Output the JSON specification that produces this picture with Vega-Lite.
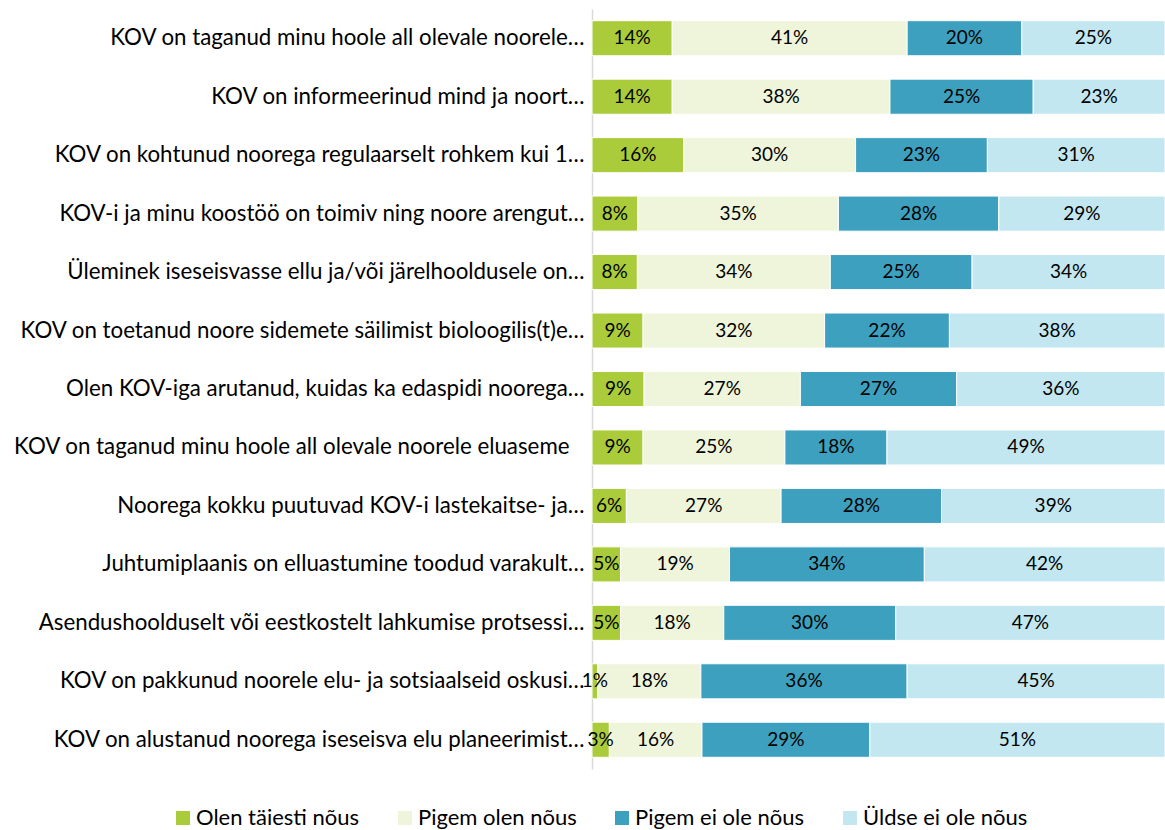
{
  "$schema": "https://vega.github.io/schema/vega-lite/v6.json",
  "width": 573,
  "height": 760,
  "autosize": "none",
  "padding": {"left": 592, "top": 9, "right": 0, "bottom": 61},
  "background": "white",
  "config": {"view": {"stroke": null}, "font": "Lato"},
  "data": {"values": [
    {"q": "KOV on taganud minu hoole all olevale noorele…", "cat": "Olen täiesti nõus", "o": 1, "value": 14},
    {"q": "KOV on taganud minu hoole all olevale noorele…", "cat": "Pigem olen nõus", "o": 2, "value": 41},
    {"q": "KOV on taganud minu hoole all olevale noorele…", "cat": "Pigem ei ole nõus", "o": 3, "value": 20},
    {"q": "KOV on taganud minu hoole all olevale noorele…", "cat": "Üldse ei ole nõus", "o": 4, "value": 25},
    {"q": "KOV on informeerinud mind ja noort…", "cat": "Olen täiesti nõus", "o": 1, "value": 14},
    {"q": "KOV on informeerinud mind ja noort…", "cat": "Pigem olen nõus", "o": 2, "value": 38},
    {"q": "KOV on informeerinud mind ja noort…", "cat": "Pigem ei ole nõus", "o": 3, "value": 25},
    {"q": "KOV on informeerinud mind ja noort…", "cat": "Üldse ei ole nõus", "o": 4, "value": 23},
    {"q": "KOV on kohtunud noorega regulaarselt rohkem kui 1…", "cat": "Olen täiesti nõus", "o": 1, "value": 16},
    {"q": "KOV on kohtunud noorega regulaarselt rohkem kui 1…", "cat": "Pigem olen nõus", "o": 2, "value": 30},
    {"q": "KOV on kohtunud noorega regulaarselt rohkem kui 1…", "cat": "Pigem ei ole nõus", "o": 3, "value": 23},
    {"q": "KOV on kohtunud noorega regulaarselt rohkem kui 1…", "cat": "Üldse ei ole nõus", "o": 4, "value": 31},
    {"q": "KOV-i ja minu koostöö on toimiv ning noore arengut…", "cat": "Olen täiesti nõus", "o": 1, "value": 8},
    {"q": "KOV-i ja minu koostöö on toimiv ning noore arengut…", "cat": "Pigem olen nõus", "o": 2, "value": 35},
    {"q": "KOV-i ja minu koostöö on toimiv ning noore arengut…", "cat": "Pigem ei ole nõus", "o": 3, "value": 28},
    {"q": "KOV-i ja minu koostöö on toimiv ning noore arengut…", "cat": "Üldse ei ole nõus", "o": 4, "value": 29},
    {"q": "Üleminek iseseisvasse ellu ja/või järelhooldusele on…", "cat": "Olen täiesti nõus", "o": 1, "value": 8},
    {"q": "Üleminek iseseisvasse ellu ja/või järelhooldusele on…", "cat": "Pigem olen nõus", "o": 2, "value": 34},
    {"q": "Üleminek iseseisvasse ellu ja/või järelhooldusele on…", "cat": "Pigem ei ole nõus", "o": 3, "value": 25},
    {"q": "Üleminek iseseisvasse ellu ja/või järelhooldusele on…", "cat": "Üldse ei ole nõus", "o": 4, "value": 34},
    {"q": "KOV on toetanud noore sidemete säilimist bioloogilis(t)e…", "cat": "Olen täiesti nõus", "o": 1, "value": 9},
    {"q": "KOV on toetanud noore sidemete säilimist bioloogilis(t)e…", "cat": "Pigem olen nõus", "o": 2, "value": 32},
    {"q": "KOV on toetanud noore sidemete säilimist bioloogilis(t)e…", "cat": "Pigem ei ole nõus", "o": 3, "value": 22},
    {"q": "KOV on toetanud noore sidemete säilimist bioloogilis(t)e…", "cat": "Üldse ei ole nõus", "o": 4, "value": 38},
    {"q": "Olen KOV-iga arutanud, kuidas ka edaspidi noorega…", "cat": "Olen täiesti nõus", "o": 1, "value": 9},
    {"q": "Olen KOV-iga arutanud, kuidas ka edaspidi noorega…", "cat": "Pigem olen nõus", "o": 2, "value": 27},
    {"q": "Olen KOV-iga arutanud, kuidas ka edaspidi noorega…", "cat": "Pigem ei ole nõus", "o": 3, "value": 27},
    {"q": "Olen KOV-iga arutanud, kuidas ka edaspidi noorega…", "cat": "Üldse ei ole nõus", "o": 4, "value": 36},
    {"q": "KOV on taganud minu hoole all olevale noorele eluaseme", "cat": "Olen täiesti nõus", "o": 1, "value": 9},
    {"q": "KOV on taganud minu hoole all olevale noorele eluaseme", "cat": "Pigem olen nõus", "o": 2, "value": 25},
    {"q": "KOV on taganud minu hoole all olevale noorele eluaseme", "cat": "Pigem ei ole nõus", "o": 3, "value": 18},
    {"q": "KOV on taganud minu hoole all olevale noorele eluaseme", "cat": "Üldse ei ole nõus", "o": 4, "value": 49},
    {"q": "Noorega kokku puutuvad KOV-i lastekaitse- ja…", "cat": "Olen täiesti nõus", "o": 1, "value": 6},
    {"q": "Noorega kokku puutuvad KOV-i lastekaitse- ja…", "cat": "Pigem olen nõus", "o": 2, "value": 27},
    {"q": "Noorega kokku puutuvad KOV-i lastekaitse- ja…", "cat": "Pigem ei ole nõus", "o": 3, "value": 28},
    {"q": "Noorega kokku puutuvad KOV-i lastekaitse- ja…", "cat": "Üldse ei ole nõus", "o": 4, "value": 39},
    {"q": "Juhtumiplaanis on elluastumine toodud varakult…", "cat": "Olen täiesti nõus", "o": 1, "value": 5},
    {"q": "Juhtumiplaanis on elluastumine toodud varakult…", "cat": "Pigem olen nõus", "o": 2, "value": 19},
    {"q": "Juhtumiplaanis on elluastumine toodud varakult…", "cat": "Pigem ei ole nõus", "o": 3, "value": 34},
    {"q": "Juhtumiplaanis on elluastumine toodud varakult…", "cat": "Üldse ei ole nõus", "o": 4, "value": 42},
    {"q": "Asendushoolduselt või eestkostelt lahkumise protsessi…", "cat": "Olen täiesti nõus", "o": 1, "value": 5},
    {"q": "Asendushoolduselt või eestkostelt lahkumise protsessi…", "cat": "Pigem olen nõus", "o": 2, "value": 18},
    {"q": "Asendushoolduselt või eestkostelt lahkumise protsessi…", "cat": "Pigem ei ole nõus", "o": 3, "value": 30},
    {"q": "Asendushoolduselt või eestkostelt lahkumise protsessi…", "cat": "Üldse ei ole nõus", "o": 4, "value": 47},
    {"q": "KOV on pakkunud noorele elu- ja sotsiaalseid oskusi…", "cat": "Olen täiesti nõus", "o": 1, "value": 1},
    {"q": "KOV on pakkunud noorele elu- ja sotsiaalseid oskusi…", "cat": "Pigem olen nõus", "o": 2, "value": 18},
    {"q": "KOV on pakkunud noorele elu- ja sotsiaalseid oskusi…", "cat": "Pigem ei ole nõus", "o": 3, "value": 36},
    {"q": "KOV on pakkunud noorele elu- ja sotsiaalseid oskusi…", "cat": "Üldse ei ole nõus", "o": 4, "value": 45},
    {"q": "KOV on alustanud noorega iseseisva elu planeerimist…", "cat": "Olen täiesti nõus", "o": 1, "value": 3},
    {"q": "KOV on alustanud noorega iseseisva elu planeerimist…", "cat": "Pigem olen nõus", "o": 2, "value": 16},
    {"q": "KOV on alustanud noorega iseseisva elu planeerimist…", "cat": "Pigem ei ole nõus", "o": 3, "value": 29},
    {"q": "KOV on alustanud noorega iseseisva elu planeerimist…", "cat": "Üldse ei ole nõus", "o": 4, "value": 51}
  ]},
  "transform": [
    {"stack": "value", "groupby": ["q"], "sort": [{"field": "o", "order": "ascending"}], "offset": "normalize", "as": ["x0", "x1"]},
    {"calculate": "(datum.x0 + datum.x1) / 2", "as": "xm"},
    {"calculate": "datum.value + '%'", "as": "lbl"}
  ],
  "encoding": {
    "y": {
      "field": "q", "type": "nominal", "sort": null, "title": null,
      "scale": {"paddingInner": 0.4, "paddingOuter": 0.2},
      "axis": {
        "domainColor": "#D9D9D9", "domainWidth": 1.5, "ticks": false,
        "labelPadding": {"condition": {"test": "datum.value == 'KOV on taganud minu hoole all olevale noorele eluaseme'", "value": 23}, "value": 8},
        "labelFontSize": 22.3, "labelColor": "#000000", "labelFont": "Lato", "labelLimit": 620
      }
    }
  },
  "layer": [
    {
      "mark": {"type": "bar", "stroke": "white", "strokeWidth": 1},
      "encoding": {
        "x": {"field": "x0", "type": "quantitative", "scale": {"domain": [0, 1], "nice": false}, "axis": null},
        "x2": {"field": "x1"},
        "color": {
          "field": "cat", "type": "nominal",
          "scale": {"domain": ["Olen täiesti nõus", "Pigem olen nõus", "Pigem ei ole nõus", "Üldse ei ole nõus"], "range": ["#ABCC3A", "#EEF5DA", "#3DA0BF", "#C3E7F0"]},
          "legend": {
            "title": null, "orient": "none", "direction": "horizontal", "legendX": -420, "legendY": 798,
            "symbolType": "square", "symbolSize": 196, "symbolStrokeWidth": 0, "labelFontSize": 22, "labelFont": "Lato", "labelColor": "#000000",
            "labelOffset": 2, "columnPadding": 34, "labelLimit": 300
          }
        }
      }
    },
    {
      "mark": {"type": "text", "fontSize": 19, "font": "Lato", "color": "#000000", "align": "center", "baseline": "middle"},
      "encoding": {
        "x": {"field": "xm", "type": "quantitative"},
        "text": {"field": "lbl"}
      }
    }
  ]
}
